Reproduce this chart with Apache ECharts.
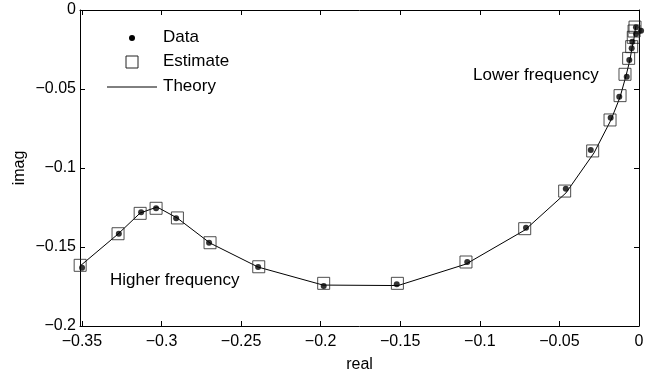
<!DOCTYPE html>
<html>
<head>
<meta charset="utf-8">
<script src="https://cdn.jsdelivr.net/npm/echarts@6/dist/echarts.min.js"></script>
<style>
  html, body { margin: 0; padding: 0; background: #fff; }
  #chart { width: 661px; height: 374px; }
</style>
</head>
<body>
<div id="chart"></div>
<script>
// measured points (real, imag)
const dataReal = [-0.3499, -0.3268, -0.3128, -0.3034, -0.2908, -0.2701, -0.2393, -0.1981, -0.1522, -0.1079, -0.0710, -0.0460, -0.0303, -0.0178, -0.0124, -0.0077, -0.0061, -0.0046, -0.0042, -0.0019, -0.0019, 0.0013]
const dataImag = [-0.1631, -0.1416, -0.1280, -0.1255, -0.1318, -0.1473, -0.1627, -0.1747, -0.1736, -0.1595, -0.1378, -0.1131, -0.0886, -0.0682, -0.0549, -0.0422, -0.0316, -0.0242, -0.0201, -0.0152, -0.0109, -0.0131]

const estReal = [-0.3511, -0.3273, -0.3134, -0.3034, -0.2900, -0.2695, -0.2389, -0.1981, -0.1518, -0.1087, -0.0718, -0.0467, -0.0291, -0.0182, -0.0119, -0.0088, -0.0065, -0.0046, -0.0036, -0.0031, -0.0025]
const estImag = [-0.1616, -0.1416, -0.1287, -0.1255, -0.1316, -0.1473, -0.1625, -0.1730, -0.1730, -0.1595, -0.1384, -0.1146, -0.0892, -0.0696, -0.0542, -0.0407, -0.0306, -0.0232, -0.0173, -0.0133, -0.0108]

const theoryReal = [-0.3511, -0.3273, -0.3134, -0.3028, -0.2902, -0.2695, -0.2393, -0.1985, -0.1514, -0.1087, -0.0716, -0.0459, -0.0283, -0.0176, -0.0119, -0.0082, -0.0057, -0.0044, -0.0031, -0.0025, -0.0019]
const theoryImag = [-0.1620, -0.1418, -0.1285, -0.1247, -0.1316, -0.1475, -0.1627, -0.1741, -0.1744, -0.1608, -0.1392, -0.1158, -0.0905, -0.0696, -0.0551, -0.0418, -0.0316, -0.0241, -0.0177, -0.0133, -0.0101]

const xTicks = [-0.35, -0.3, -0.25, -0.2, -0.15, -0.1, -0.05, 0]

const xMin = -0.3512
const font = "'Liberation Sans', Arial, sans-serif"

const zip = (a, b) => a.map((v, i) => [v, b[i]])
const fmt = v => {
  const r = Math.round(v * 1000) / 1000
  return r < 0 ? '\u2212' + String(-r) : String(r)
}

const chart = echarts.init(document.getElementById('chart'))

const tickStyle = { inside: true, length: 5, lineStyle: { color: '#000', width: 1 } }
const lineStyle = { show: true, onZero: false, lineStyle: { color: '#000', width: 1 } }
const txt = { fontSize: 17, fontFamily: font, fill: '#000' }

const option = {
  animation: false,
  textStyle: { fontFamily: font },
  grid: { left: 80, right: 22, top: 10, bottom: 48, containLabel: false, outerBoundsMode: 'none' },
  xAxis: [
    {
      type: 'value', min: xMin, max: 0,
      name: 'real', nameLocation: 'middle', nameGap: 31, nameMoveOverlap: false,
      nameTextStyle: { color: '#000', fontSize: 16, fontFamily: font },
      axisLine: lineStyle,
      axisTick: Object.assign({ customValues: xTicks }, tickStyle),
      axisLabel: { customValues: xTicks, formatter: fmt, color: '#000', fontSize: 16, margin: 8, fontFamily: font },
      splitLine: { show: false }
    },
    {
      type: 'value', min: xMin, max: 0, position: 'top',
      axisLine: lineStyle,
      axisTick: Object.assign({ customValues: xTicks }, tickStyle),
      axisLabel: { show: false },
      splitLine: { show: false }
    }
  ],
  yAxis: [
    {
      type: 'value', min: -0.2, max: 0, interval: 0.05,
      name: 'imag', nameLocation: 'middle', nameGap: 52, nameMoveOverlap: false,
      nameTextStyle: { color: '#000', fontSize: 16, fontFamily: font },
      axisLine: lineStyle,
      axisTick: tickStyle,
      axisLabel: { formatter: fmt, color: '#000', fontSize: 16, margin: 4, fontFamily: font },
      splitLine: { show: false }
    },
    {
      type: 'value', min: -0.2, max: 0, interval: 0.05, position: 'right',
      axisLine: lineStyle,
      axisTick: tickStyle,
      axisLabel: { show: false },
      splitLine: { show: false }
    }
  ],
  series: [
    {
      name: 'Theory', type: 'line', data: zip(theoryReal, theoryImag),
      symbol: 'none', lineStyle: { color: '#000', width: 1 }, z: 2
    },
    {
      name: 'Estimate', type: 'scatter', data: zip(estReal, estImag),
      symbol: 'rect', symbolSize: 12, clip: false,
      itemStyle: { color: 'rgba(0,0,0,0)', borderColor: '#222', borderWidth: 1 }, z: 3
    },
    {
      name: 'Data', type: 'scatter', data: zip(dataReal, dataImag),
      symbol: 'circle', symbolSize: 6, clip: false,
      itemStyle: { color: '#000' }, z: 4
    }
  ],
  graphic: [
    // legend, no box like the original
    { type: 'circle', shape: { cx: 132, cy: 38, r: 3 }, style: { fill: '#000' } },
    { type: 'rect', shape: { x: 126, y: 56, width: 12, height: 12 }, style: { fill: 'none', stroke: '#222', lineWidth: 1 } },
    { type: 'line', shape: { x1: 107, y1: 87, x2: 157, y2: 87 }, style: { stroke: '#000', lineWidth: 1 } },
    { type: 'text', left: 163, top: 29, style: Object.assign({ text: 'Data' }, txt) },
    { type: 'text', left: 163, top: 53, style: Object.assign({ text: 'Estimate' }, txt) },
    { type: 'text', left: 163, top: 78, style: Object.assign({ text: 'Theory' }, txt) },
    // annotations
    { type: 'text', left: 473, top: 67, style: Object.assign({ text: 'Lower frequency' }, txt) },
    { type: 'text', left: 110, top: 272, style: Object.assign({ text: 'Higher frequency' }, txt) }
  ]
}

chart.setOption(option)
</script>
</body>
</html>
